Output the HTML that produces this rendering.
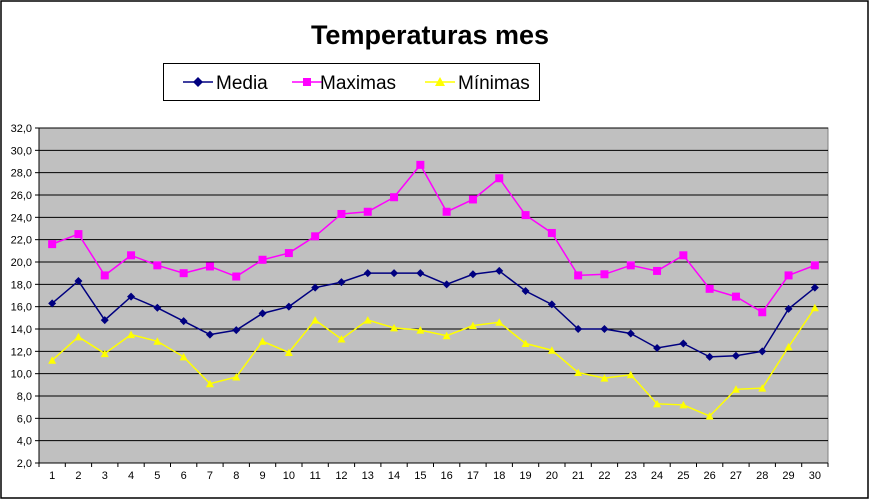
<!DOCTYPE html><html><head><style>body{margin:0;background:#fff}svg{display:block;font-family:"Liberation Sans",Arial,sans-serif}</style></head><body>
<svg id="s" width="870" height="500" xmlns="http://www.w3.org/2000/svg">
<rect x="1" y="1" width="867" height="497" fill="#fff" stroke="#000" stroke-width="1.5"/>
<text x="430" y="44" font-size="27" font-weight="bold" text-anchor="middle">Temperaturas mes</text>
<rect x="163.5" y="63.5" width="376" height="37" fill="#fff" stroke="#000"/>
<line x1="183" y1="82" x2="213" y2="82" stroke="#000080" stroke-width="1.5"/><path d="M198 77 L203 82 L198 87 L193 82Z" fill="#000080"/>
<text x="216" y="89" font-size="19">Media</text>
<line x1="292" y1="82" x2="322" y2="82" stroke="#ff00ff" stroke-width="1.5"/><rect x="303" y="78" width="8" height="8" fill="#ff00ff"/>
<text x="320" y="89" font-size="19">Maximas</text>
<line x1="425" y1="82" x2="455" y2="82" stroke="#ffff00" stroke-width="1.5"/><path d="M440 77 L445 86 L435 86Z" fill="#ffff00"/>
<text x="458" y="89" font-size="19">Mínimas</text>
<g id="g"></g>
</svg>
<script>
const g=document.getElementById('g');let h='';
const L=39,R=828,T=128,B=463,Y=v=>B-(v-2)*(B-T)/30,w=(R-L)/30,X=i=>L+w*(i+0.5);
h+=`<rect x="${L}" y="${T}" width="${R-L}" height="${B-T}" fill="#c0c0c0" stroke="#808080"/>`;
for(let v=2;v<=32;v+=2){const y=Y(v);if(v>2)h+=`<line x1="${L}" y1="${y}" x2="${R}" y2="${y}" stroke="#000" stroke-width="1"/>`;
h+=`<line x1="${L-4}" y1="${y}" x2="${L}" y2="${y}" stroke="#000"/><text x="${L-7}" y="${y+4}" font-size="11" text-anchor="end">${v.toFixed(1).replace('.',',')}</text>`;}
h+=`<line x1="${L}" y1="${T}" x2="${L}" y2="${B}" stroke="#000"/><line x1="${L}" y1="${B}" x2="${R}" y2="${B}" stroke="#000"/>`;
for(let i=0;i<=30;i++){const x=L+w*i;h+=`<line x1="${x}" y1="${B}" x2="${x}" y2="${B+4}" stroke="#000"/>`;}
for(let i=0;i<30;i++)h+=`<text x="${X(i)}" y="${B+16}" font-size="11" text-anchor="middle">${i+1}</text>`;
const me=[16.3,18.3,14.8,16.9,15.9,14.7,13.5,13.9,15.4,16.0,17.7,18.2,19.0,19.0,19.0,18.0,18.9,19.2,17.4,16.2,14.0,14.0,13.6,12.3,12.7,11.5,11.6,12.0,15.8,17.7];
const mx=[21.6,22.5,18.8,20.6,19.7,19.0,19.6,18.7,20.2,20.8,22.3,24.3,24.5,25.8,28.7,24.5,25.6,27.5,24.2,22.6,18.8,18.9,19.7,19.2,20.6,17.6,16.9,15.5,18.8,19.7];
const mn=[11.2,13.3,11.8,13.5,12.9,11.5,9.1,9.7,12.9,11.9,14.8,13.1,14.8,14.1,13.9,13.4,14.3,14.6,12.7,12.1,10.1,9.6,9.9,7.3,7.2,6.2,8.6,8.7,12.4,15.9];
function ser(d,c,m){h+=`<polyline fill="none" stroke="${c}" stroke-width="1.5" points="${d.map((v,i)=>X(i)+','+Y(v)).join(' ')}"/>`;
d.forEach((v,i)=>{const x=X(i),y=Y(v);
if(m==0)h+=`<path d="M${x} ${y-4}L${x+4} ${y}L${x} ${y+4}L${x-4} ${y}Z" fill="${c}"/>`;
else if(m==1)h+=`<rect x="${x-4}" y="${y-4}" width="8" height="8" fill="${c}"/>`;
else h+=`<path d="M${x} ${y-4}L${x+4} ${y+3.5}L${x-4} ${y+3.5}Z" fill="${c}"/>`;});}
ser(mx,'#ff00ff',1);ser(mn,'#ffff00',2);ser(me,'#000080',0);
g.innerHTML=h;
</script></body></html>
